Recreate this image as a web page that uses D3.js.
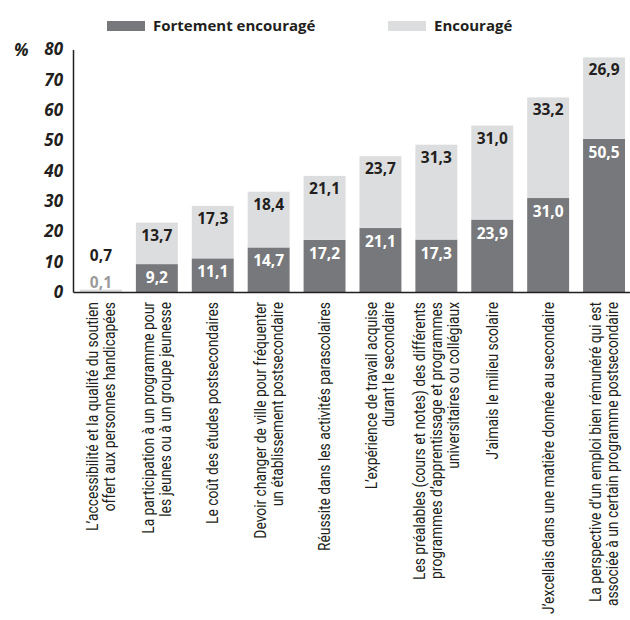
<!DOCTYPE html>
<html>
<head>
<meta charset="utf-8">
<script src="https://cdn.jsdelivr.net/npm/d3@7"></script>
<style>
  body { margin: 0; background: #fff; }
  svg { display: block; }
</style>
</head>
<body>
<svg id="chart"></svg>
<script>
// category labels, one entry per bar, split in lines
const categories = [
  ['L’accessibilité et la qualité du soutien', 'offert aux personnes handicapées'],
  ['La participation à un programme pour', 'les jeunes ou à un groupe jeunesse'],
  ['Le coût des études postsecondaires'],
  ['Devoir changer de ville pour fréquenter', 'un établissement postsecondaire'],
  ['Réussite dans les activités parascolaires'],
  ['L’expérience de travail acquise', 'durant le secondaire'],
  ['Les préalables (cours et notes) des différents', 'programmes d’apprentissage et programmes', 'universitaires ou collégiaux'],
  ['J’aimais le milieu scolaire'],
  ['J’excellais dans une matière donnée au secondaire'],
  ['La perspective d’un emploi bien rémunéré qui est', 'associée à un certain programme postsecondaire']
];

const fortement = [0.1, 9.2, 11.1, 14.7, 17.2, 21.1, 17.3, 23.9, 31.0, 50.5];
const encourage = [0.7, 13.7, 17.3, 18.4, 21.1, 23.7, 31.3, 31.0, 33.2, 26.9];

const seriesNames = ['Fortement encouragé', 'Encouragé'];
const yTicks = [0, 10, 20, 30, 40, 50, 60, 70, 80];

const config = {
  width: 630,
  height: 620,
  axisX: 73,
  right: 632,
  top: 49.5,
  bottom: 292,
  labelLength: 312, // length of the longest category line
  colors: { dark: '#77787b', light: '#dcddde', text: '#231f20', faint: '#9b9b9b' },
  font: '"Open Sans", "DejaVu Sans", sans-serif',
  narrow: '"Roboto", "DejaVu Sans Condensed", sans-serif'
};

const fmt = v => v.toFixed(1).replace('.', ',');

const rows = categories.map((c, i) => ({
  key: i,
  lines: c,
  fortement: fortement[i],
  encourage: encourage[i]
}));

const svg = d3.select('#chart')
  .attr('width', config.width)
  .attr('height', config.height)
  .style('font-family', config.font);

const x = d3.scaleBand()
  .domain(rows.map(d => d.key))
  .range([config.axisX, config.right])
  .paddingInner(0.25)
  .paddingOuter(0.125);

const y = d3.scaleLinear()
  .domain([0, 80])
  .range([config.bottom, config.top]);

// legend
const legend = svg.append('g').attr('class', 'legend');
const legendItems = [
  { name: seriesNames[0], color: config.colors.dark, x: 107 },
  { name: seriesNames[1], color: config.colors.light, x: 388 }
];
legendItems.forEach(l => {
  legend.append('rect')
    .attr('x', l.x).attr('y', 21)
    .attr('width', 38).attr('height', 10)
    .attr('fill', l.color);
  legend.append('text')
    .attr('x', l.x + 46).attr('y', 31)
    .attr('font-size', 15).attr('font-weight', 700)
    .attr('fill', config.colors.text)
    .text(l.name);
});

// y axis
const yAxis = d3.axisLeft(y)
  .tickValues(yTicks)
  .tickSize(0)
  .tickPadding(10)
  .tickFormat(d3.format('d'));

const yG = svg.append('g')
  .attr('transform', `translate(${config.axisX},0)`)
  .call(yAxis);
yG.select('.domain').attr('stroke', '#231f20').attr('stroke-width', 1.5);
yG.selectAll('text')
  .attr('font-family', config.font)
  .attr('font-size', 17)
  .attr('font-weight', 700)
  .attr('font-style', 'italic')
  .attr('fill', config.colors.text);

svg.append('text')
  .attr('x', 14).attr('y', y(80) + 6)
  .attr('font-size', 17).attr('font-weight', 700).attr('font-style', 'italic')
  .attr('fill', config.colors.text)
  .text('%');

// bars
const bars = svg.append('g').selectAll('.bar')
  .data(rows)
  .enter().append('g')
  .attr('class', 'bar');

bars.append('rect')
  .attr('x', d => x(d.key))
  .attr('width', x.bandwidth())
  .attr('y', d => y(d.fortement))
  .attr('height', d => y(0) - y(d.fortement))
  .attr('fill', config.colors.dark);

bars.append('rect')
  .attr('x', d => x(d.key))
  .attr('width', x.bandwidth())
  .attr('y', d => y(d.fortement + d.encourage))
  .attr('height', d => y(d.fortement) - y(d.fortement + d.encourage))
  .attr('fill', config.colors.light);

// x axis line
const xAxis = d3.axisBottom(x).tickSize(0).tickFormat('');
const xG = svg.append('g')
  .attr('transform', `translate(0,${config.bottom})`)
  .call(xAxis);
xG.select('.domain').attr('stroke', '#231f20').attr('stroke-width', 1.5);

// value labels
const small = d => y(0) - y(d.fortement) < 22;

bars.append('text')
  .attr('x', d => x(d.key) + x.bandwidth() / 2)
  .attr('y', d => small(d) ? y(d.fortement + d.encourage) - 2 : y(d.fortement) + 19)
  .attr('text-anchor', 'middle')
  .attr('font-size', 15.5).attr('font-weight', 700)
  .attr('fill', d => small(d) ? config.colors.faint : '#fff')
  .text(d => fmt(d.fortement));

bars.append('text')
  .attr('x', d => x(d.key) + x.bandwidth() / 2)
  .attr('y', d => small(d) ? y(d.fortement + d.encourage) - 29 : y(d.fortement + d.encourage) + 18)
  .attr('text-anchor', 'middle')
  .attr('font-size', 15.5).attr('font-weight', 700)
  .attr('fill', config.colors.text)
  .text(d => fmt(d.encourage));

// category labels (rotated), squeezed along their length like a condensed face
const lineGap = 17;
const labels = svg.append('g').selectAll('.cat')
  .data(rows)
  .enter().append('text')
  .attr('class', 'cat')
  .attr('text-anchor', 'end')
  .attr('font-family', config.narrow)
  .attr('font-size', 16.5)
  .attr('fill', config.colors.text);

labels.each(function(d) {
  const n = d.lines.length;
  d3.select(this).selectAll('tspan')
    .data(d.lines)
    .enter().append('tspan')
    .attr('x', 0)
    .attr('y', (l, i) => (i - (n - 1) / 2) * lineGap)
    .attr('dominant-baseline', 'central')
    .text(l => l);
});

let longest = 0;
labels.selectAll('tspan').each(function() {
  longest = Math.max(longest, this.getComputedTextLength());
});
const squeeze = config.labelLength / longest;

labels.attr('transform', d =>
  `translate(${x(d.key) + x.bandwidth() / 2},${config.bottom + 10}) rotate(-90) scale(${squeeze},1)`);
</script>
</body>
</html>
